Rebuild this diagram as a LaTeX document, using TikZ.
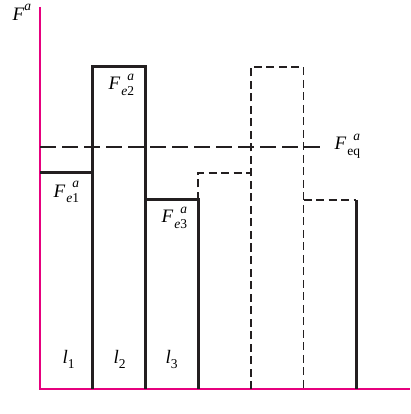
\documentclass[tikz,border=0pt]{standalone}
\usepackage{fontspec}
\setmainfont{Liberation Serif}
\definecolor{cmagenta}{HTML}{E6007E}
\definecolor{cink}{HTML}{231F20}
\newcommand{\scr}{\fontsize{13.5}{14}\selectfont}
\newcommand{\Fsup}[1]{\textit{F}\kern0.05em\raisebox{-0.3em}{\scr #1}\llap{\raisebox{0.5em}{\scr\textit{a}}}}
\tikzset{
  every picture/.style={line width=1.2pt},
  axis/.style={draw=cmagenta, line width=1.3pt},
  bar/.style={draw=cink, line width=3pt},
  ghost/.style={draw=cink, line width=1.4pt, dash pattern=on 8pt off 4.5pt},
  level/.style={draw=cink, line width=1.3pt, dash pattern=on 16pt off 6pt},
  lbl/.style={font=\fontsize{19}{23}\selectfont, inner sep=0pt, anchor=base west},
}

\begin{document}
\begin{tikzpicture}[x=52.7pt, y=52.7pt]
  \useasboundingbox (-0.759,-0.474) rectangle (7.021,7.381);
  % axes
  \draw[axis] (0,7.25) -- (0,0) -- (7.021,0);
  \node[lbl] (fa) at (-0.531,7.0) {\textit{F}\raisebox{0.5em}{\scr\textit{a}}};
  % equilibrium level
  \node[lbl] (feq) at (5.579,4.535) {\Fsup{eq}};
  \coordinate (eqend) at (5.37,4.59);
  \draw[level] (0,4.59) -- (eqend);
  % the three elements
  \draw[bar] (0,4.10) -- (1,4.10) -- (1,0);
  \draw[bar] (1,0) |- (2,6.11) -- (2,0);
  \draw[bar] (2,0) |- (3,3.59) -- (3,0);
  % repeated pattern
  \draw[ghost] (3,3.59) |- (4,4.10);
  \draw[ghost] (4,0) |- (5,6.11) -- (5,0);
  \draw[ghost] (5,3.59) -- (6,3.59);
  \draw[bar] (6,3.59) -- (6,0);
  % labels
  \foreach \x/\y/\k in {0.247/3.643/1, 1.29/5.674/2, 2.296/3.15/3} {
    \node[lbl] (fe\k) at (\x,\y) {\Fsup{\textit{e}\k}};
  }
  \foreach \x/\k in {0.417/1, 1.385/2, 2.372/3} {
    \node[lbl] (l\k) at (\x,0.493) {\textit{l}\raisebox{-0.3em}{\scr\k}};
  }
\end{tikzpicture}
\end{document}
